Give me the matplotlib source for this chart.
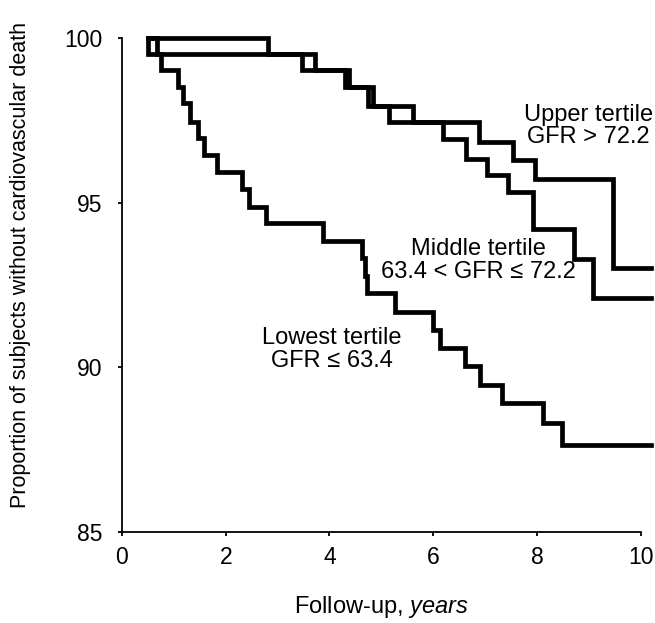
import matplotlib.pyplot as plt

plt.rcParams["font.family"] = "Liberation Sans"
plt.rcParams["mathtext.fontset"] = "custom"
plt.rcParams["mathtext.rm"] = "Liberation Sans"
plt.rcParams["mathtext.it"] = "Liberation Sans:italic"

# Kaplan-Meier step curves (time in years, survival in %)
upper_t = [0.5, 2.81, 3.72, 4.37, 4.84, 5.61, 6.89, 7.54, 7.97, 9.47, 10.2]
upper_s = [100, 99.50, 99.03, 98.52, 97.93, 97.44, 96.85, 96.29, 95.72, 93.02, 93.02]

middle_t = [0.5, 0.5, 3.48, 4.30, 4.75, 5.15, 6.18, 6.64, 7.03, 7.44, 7.93, 8.72, 9.08, 10.2]
middle_s = [100, 99.50, 99.03, 98.52, 97.93, 97.44, 96.92, 96.34, 95.84, 95.33, 94.19, 93.30, 92.11, 92.11]

lowest_t = [0.5, 0.67, 0.76, 1.08, 1.18, 1.31, 1.46, 1.58, 1.83, 2.31, 2.45, 2.77, 3.87,
            4.62, 4.68, 4.72, 5.26, 5.99, 6.13, 6.61, 6.90, 7.33, 8.11, 8.49, 10.2]
lowest_s = [100, 99.50, 99.03, 98.52, 98.02, 97.46, 96.96, 96.44, 95.93, 95.41, 94.86, 94.38, 93.83,
            93.31, 92.78, 92.25, 91.68, 91.12, 90.58, 90.03, 89.45, 88.91, 88.31, 87.63, 87.63]

fig = plt.figure(figsize=(6.55, 6.23), dpi=100)
ax = fig.add_axes([122 / 655, 1 - 532 / 623, 529 / 655, (532 - 38) / 623])

for t, s in [(upper_t, upper_s), (middle_t, middle_s), (lowest_t, lowest_s)]:
    ax.step(t, s, where="post", color="black", linewidth=3.4, clip_on=False,
            solid_joinstyle="miter")

ax.set_xlim(0, 10.2)
ax.set_ylim(85, 100)
ax.set_xticks(range(0, 11, 2))
ax.set_yticks([85, 90, 95, 100])
ax.spines["top"].set_visible(False)
ax.spines["right"].set_visible(False)
ax.spines["bottom"].set_bounds(0, 10)
ax.spines["left"].set_linewidth(1.3)
ax.spines["bottom"].set_linewidth(1.3)
ax.tick_params(direction="out", length=3, width=1.3, labelsize=16.5)
ax.tick_params(axis="y", pad=11)
ax.tick_params(axis="x", pad=7)

ax.set_ylabel("Proportion of subjects without cardiovascular death", fontsize=15.5)
ax.yaxis.set_label_coords(-0.172, 0.54)
ax.set_xlabel(r"Follow-up, $\mathit{years}$", fontsize=17)
ax.xaxis.set_label_coords(0.49, -0.125)

ax.text(9.0, 97.33, "Upper tertile\nGFR > 72.2", ha="center", va="center",
        fontsize=17, linespacing=1.05)
ax.text(6.88, 93.25, "Middle tertile\n63.4 < GFR \u2264 72.2", ha="center", va="center",
        fontsize=17, linespacing=1.05)
ax.text(4.04, 90.55, "Lowest tertile\nGFR \u2264 63.4", ha="center", va="center",
        fontsize=17, linespacing=1.05)

plt.savefig("out.png", dpi=100)
